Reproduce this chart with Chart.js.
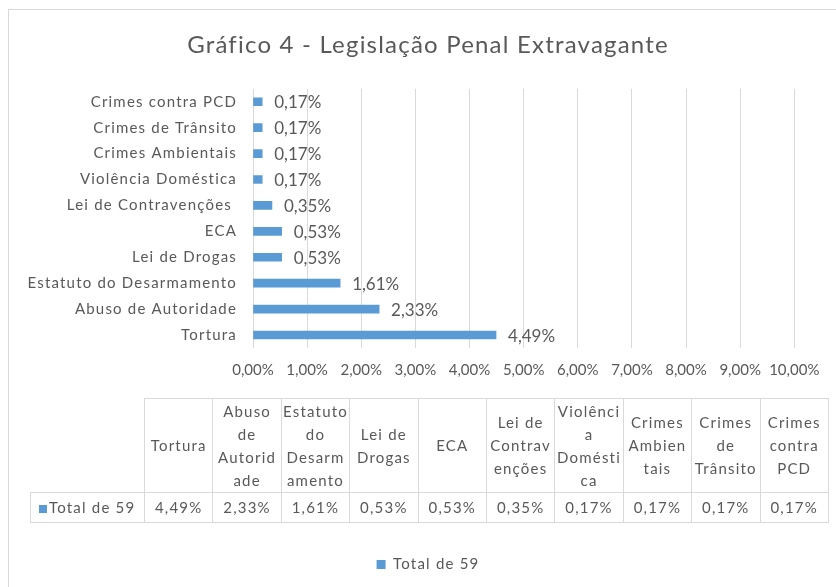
<!DOCTYPE html>
<html>
<head>
<meta charset="utf-8">
<script src="https://cdn.jsdelivr.net/npm/chart.js@4.4.1/dist/chart.umd.min.js"></script>
<style>
  html, body { margin: 0; padding: 0; background: #fff; overflow: hidden; }
  #wrap { position: relative; width: 836px; height: 587px; overflow: hidden; }
  #frame { position: absolute; left: 8px; top: 9px; width: 900px; height: 700px; border: 1px solid #d9d9d9; }
  #chart { position: absolute; left: 0; top: 0; }
  #dataTable { position: absolute; left: 30px; top: 398px; border-collapse: collapse; table-layout: fixed;
    font-family: Lato, "Open Sans", sans-serif; font-size: 15px; letter-spacing: 1.2px; color: #595959; }
  #dataTable td { border: 1px solid #d9d9d9; text-align: center; padding: 0; line-height: 23px; white-space: nowrap; }
  #dataTable tr.head td { height: 93px; }
  #dataTable tr.head td.corner { border: none; border-right: 1px solid #d9d9d9; }
  #dataTable tr.vals td { height: 29px; }
  #dataTable td.series { text-align: left; padding-left: 8px; }
  .swatch { display: inline-block; width: 8px; height: 8px; background: #5b9bd5; margin-right: 2px; }
</style>
</head>
<body>
<div id="wrap">
  <div id="frame"></div>
  <canvas id="chart" width="836" height="587"></canvas>
  <table id="dataTable"></table>
</div>
<script>
const categories = ['Tortura', 'Abuso de Autoridade', 'Estatuto do Desarmamento', 'Lei de Drogas', 'ECA',
  'Lei de Contravenções ', 'Violência Doméstica', 'Crimes Ambientais', 'Crimes de Trânsito', 'Crimes contra PCD'];
const totalDe59 = [4.49, 2.33, 1.61, 0.53, 0.53, 0.35, 0.17, 0.17, 0.17, 0.17];
const seriesName = 'Total de 59';
const xMin = 0, xMax = 10, xStep = 1;
// how the table header cells wrap in the original
const headLines = [
  ['Tortura'], ['Abuso', 'de', 'Autorid', 'ade'], ['Estatuto', 'do', 'Desarm', 'amento'], ['Lei de', 'Drogas'], ['ECA'],
  ['Lei de', 'Contrav', 'enções'], ['Violênci', 'a', 'Domésti', 'ca'], ['Crimes', 'Ambien', 'tais'],
  ['Crimes', 'de', 'Trânsito'], ['Crimes', 'contra', 'PCD']
];

const barColor = '#5b9bd5';
const textColor = '#595959';
const fontFamily = 'Lato, "Open Sans", sans-serif';
const pct = v => v.toFixed(2).replace('.', ',') + '%';

// data table under the chart
const table = document.getElementById('dataTable');
let html = '<colgroup><col style="width:114px">' + categories.map(() => '<col style="width:68.4px">').join('') + '</colgroup>';
html += '<tr class="head"><td class="corner"></td>' + headLines.map(l => '<td>' + l.join('<br>') + '</td>').join('') + '</tr>';
html += '<tr class="vals"><td class="series"><span class="swatch"></span>' + seriesName + '</td>' +
  totalDe59.map(v => '<td>' + pct(v) + '</td>').join('') + '</tr>';
table.innerHTML = html;

// the Excel text is a bit spread out; x tick labels (z: 1) and value labels are not
const textSpacing = {
  id: 'textSpacing',
  beforeUpdate(chart) { chart.ctx.letterSpacing = '1.2px'; },
  beforeDraw(chart) { chart.ctx.letterSpacing = '1.2px'; },
  afterDatasetsDraw(chart) {
    const ctx = chart.ctx;
    ctx.letterSpacing = '0px';
    ctx.save();
    ctx.font = '17px ' + fontFamily;
    ctx.fillStyle = textColor;
    ctx.textBaseline = 'middle';
    ctx.textAlign = 'left';
    chart.getDatasetMeta(0).data.forEach((bar, i) => {
      ctx.fillText(pct(totalDe59[i]), bar.x + 12, bar.y + 1);
    });
    ctx.restore();
  }
};

new Chart(document.getElementById('chart'), {
  type: 'bar',
  data: {
    labels: categories,
    datasets: [{
      label: seriesName,
      data: totalDe59,
      backgroundColor: barColor,
      barThickness: 8
    }]
  },
  options: {
    indexAxis: 'y',
    responsive: false,
    animation: false,
    layout: { padding: { left: 20, right: 0, top: 0, bottom: 5 } },
    scales: {
      x: {
        min: xMin,
        max: xMax,
        ticks: { stepSize: xStep, callback: v => pct(v), color: textColor, font: { family: fontFamily, size: 15 },
          padding: 13, maxRotation: 0, autoSkip: false, z: 1 },
        grid: { color: '#d9d9d9', drawTicks: false },
        border: { display: false },
        afterFit: s => { s.height = 199; }
      },
      y: {
        reverse: true,
        ticks: { color: textColor, font: { family: fontFamily, size: 15 }, padding: 16 },
        grid: { display: false, drawTicks: false },
        border: { display: false },
        afterFit: s => { s.width = 233; }
      },
      // empty strip on the right so the 10% line sits where it does in Excel
      yRight: {
        axis: 'y',
        type: 'category',
        position: 'right',
        ticks: { display: false },
        grid: { display: false, drawTicks: false },
        border: { display: false },
        afterFit: s => { s.width = 36; }
      }
    },
    plugins: {
      title: {
        display: true,
        text: 'Gráfico 4 - Legislação Penal Extravagante',
        color: textColor,
        font: { family: fontFamily, size: 24, weight: 'normal' },
        padding: { top: 31, bottom: 29 }
      },
      legend: {
        position: 'bottom',
        labels: { color: textColor, font: { family: fontFamily, size: 15 }, boxWidth: 9, boxHeight: 9, padding: 10 }
      },
      tooltip: { enabled: false }
    }
  },
  plugins: [textSpacing]
});
</script>
</body>
</html>
